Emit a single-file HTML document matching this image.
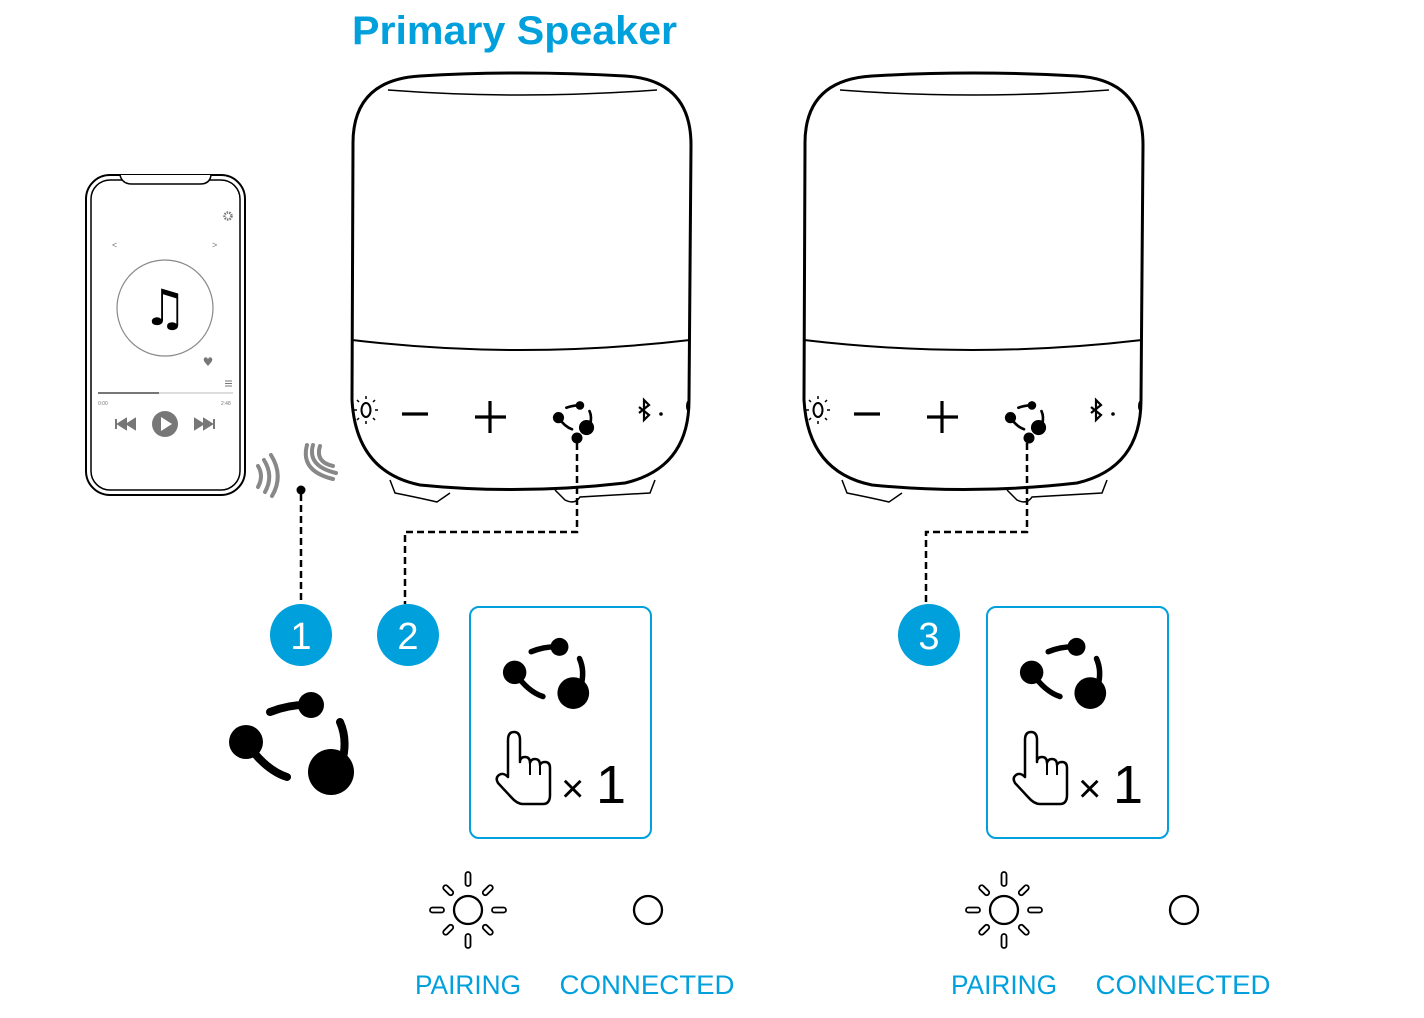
<!DOCTYPE html>
<html><head><meta charset="utf-8"><style>
html,body{margin:0;padding:0;background:#fff;}
svg{display:block;}
</style></head><body>
<svg width="1424" height="1018" viewBox="0 0 1424 1018" xmlns="http://www.w3.org/2000/svg">
<defs>
<g id="grp">
  <circle cx="21" cy="-35" r="13" fill="#000"/>
  <path d="M-20,-28 Q0,-36 21,-35" stroke="#000" stroke-width="8" fill="none" stroke-linecap="round"/>
  <circle cx="-44" cy="2" r="17" fill="#000"/>
  <path d="M-44,2 Q-25,30 -3,37" stroke="#000" stroke-width="8" fill="none" stroke-linecap="round"/>
  <circle cx="41" cy="32" r="23" fill="#000"/>
  <path d="M50,-18 Q58,0 52,22" stroke="#000" stroke-width="8" fill="none" stroke-linecap="round"/>
</g>
<g id="speaker">
  <path d="M353,145 Q352,80 420,76 Q520,70 625,76 Q691,80 691,145 L689,400 Q689,468 625,483 Q520,495 420,485 Q356,472 352,400 Z" fill="#fff" stroke="#000" stroke-width="3"/>
  <path d="M388,90 Q520,100 657,90" stroke="#000" stroke-width="1.5" fill="none"/>
  <path d="M352,340 Q520,360 690,340" stroke="#000" stroke-width="2" fill="none"/>
  <path d="M390,480 L395,493 Q420,498 437,502 L450,493 M555,490 L565,500 Q575,505 580,497 L650,493 L655,480" stroke="#000" stroke-width="1.5" fill="none"/>
  <ellipse cx="366" cy="410" rx="4.5" ry="7" fill="none" stroke="#000" stroke-width="2"/>
  <path d="M366,396v3M366,421v3M357,410h-3M375,410h3M359,402l-2,-2M373,402l2,-2M359,418l-2,2M373,418l2,2" stroke="#000" stroke-width="1.5"/>
  <path d="M402,414h26" stroke="#000" stroke-width="3.2"/>
  <path d="M475,417h31M490,401v32" stroke="#000" stroke-width="3.2"/>
  <use href="#grp" transform="translate(573,417) scale(0.33)"/>
  <circle cx="577" cy="438" r="5.5" fill="#000"/>
  <path d="M639,407l10,8l-5,5v-20l5,5l-10,8" stroke="#000" stroke-width="2.2" fill="none"/>
  <circle cx="661" cy="414" r="1.8" fill="#000"/>
  <path d="M689,400 a3,6 0 0 0 0,12" fill="#000"/>
</g>
<g id="hand">
  <path d="M0,0 Q0,-8 6,-8 Q12,-8 12,0 L12,22 Q12,17 17,17 Q22,17 22,23 Q23,19 27,19 Q32,19 32,25 Q33,22 37,22 Q42,22 42,28 L42,55 Q42,64 35,64 L15,64 Q9,64 3,57 L-10,43 Q-13,38 -9,35 Q-5,32 0,37 Z" fill="#fff" stroke="#000" stroke-width="2.5" stroke-linejoin="round"/>
  <path d="M22,23v12M32,25v10" stroke="#000" stroke-width="2"/>
</g>
<g id="sun">
  <circle cx="0" cy="0" r="14" fill="none" stroke="#000" stroke-width="2.3"/>
  <g fill="none" stroke="#000" stroke-width="1.8">
    <rect x="-2.5" y="-38" width="5" height="14" rx="2.5"/>
    <rect x="-2.5" y="24" width="5" height="14" rx="2.5"/>
    <rect x="-38" y="-2.5" width="14" height="5" rx="2.5"/>
    <rect x="24" y="-2.5" width="14" height="5" rx="2.5"/>
    <rect x="-2.5" y="-34" width="5" height="12" rx="2.5" transform="rotate(45)"/>
    <rect x="-2.5" y="-34" width="5" height="12" rx="2.5" transform="rotate(-45)"/>
    <rect x="-2.5" y="22" width="5" height="12" rx="2.5" transform="rotate(45)"/>
    <rect x="-2.5" y="22" width="5" height="12" rx="2.5" transform="rotate(-45)"/>
  </g>
</g>
</defs>

<text x="352" y="44" font-family="Liberation Sans, sans-serif" font-weight="bold" font-size="40" fill="#00a0dc" textLength="325" lengthAdjust="spacingAndGlyphs">Primary Speaker</text>

<rect x="86" y="175" width="159" height="320" rx="24" fill="#fff" stroke="#000" stroke-width="2"/>
<rect x="91" y="180" width="149" height="310" rx="19" fill="none" stroke="#000" stroke-width="1.5"/>
<path d="M120,175 Q122,184 132,184 L200,184 Q210,184 211,175" fill="#fff" stroke="#000" stroke-width="1.5"/>
<circle cx="228" cy="216" r="3.5" fill="none" stroke="#777" stroke-width="2.5" stroke-dasharray="1.5,1"/>
<text x="112" y="248" font-family="Liberation Sans, sans-serif" font-size="9" fill="#777">&lt;</text>
<text x="212" y="248" font-family="Liberation Sans, sans-serif" font-size="9" fill="#777">&gt;</text>
<circle cx="165" cy="308" r="48" fill="none" stroke="#888" stroke-width="1.2"/>
<text x="165" y="325" text-anchor="middle" font-family="DejaVu Sans, sans-serif" font-size="50" fill="#000">♫</text>
<text x="208" y="366" text-anchor="middle" font-family="DejaVu Sans, sans-serif" font-size="12" fill="#777">♥</text>
<path d="M225,381h7M225,383.5h7M225,386h7" stroke="#777" stroke-width="1"/>
<line x1="98" y1="393" x2="233" y2="393" stroke="#ddd" stroke-width="2"/>
<line x1="98" y1="393" x2="159" y2="393" stroke="#777" stroke-width="2"/>
<text x="98" y="405" font-family="Liberation Sans, sans-serif" font-size="5" fill="#777">0:00</text>
<text x="221" y="405" font-family="Liberation Sans, sans-serif" font-size="5" fill="#777">2:48</text>
<circle cx="165" cy="424" r="13" fill="#777"/>
<path d="M161,417 L172,424 L161,431 Z" fill="#fff"/>
<path d="M116,419v10M126,419l-8,5l8,5zM135,419l-8,5l8,5z" fill="#777" stroke="#777" stroke-width="2"/>
<path d="M214,419v10M204,419l8,5l-8,5zM195,419l8,5l-8,5z" fill="#777" stroke="#777" stroke-width="2"/>
<g stroke="#888" stroke-width="4" fill="none" stroke-linecap="round">
<path d="M258,466 Q264,476 258,487"/><path d="M264,460 Q274,476 265,492"/><path d="M271,455 Q284,476 272,496"/>
<path d="M320,446 Q315,462 333,466"/><path d="M313,445 Q307,466 336,473"/><path d="M307,445 Q300,471 333,479"/>
</g>
<circle cx="301" cy="490" r="4.5" fill="#000"/>

<use href="#speaker"/>
<use href="#speaker" transform="translate(452,0)"/>

<g stroke="#000" stroke-width="2.5" fill="none" stroke-dasharray="7,4">
<path d="M301,494 V603"/>
<path d="M577,443 V532 H405 V604"/>
<path d="M1027,443 V532 H926 V604"/>
</g>

<g font-family="Liberation Sans, sans-serif" font-size="38" fill="#fff" text-anchor="middle">
<circle cx="301" cy="635" r="31" fill="#00a0dc"/><text x="301" y="649">1</text>
<circle cx="408" cy="635" r="31" fill="#00a0dc"/><text x="408" y="649">2</text>
<circle cx="929" cy="635" r="31" fill="#00a0dc"/><text x="929" y="649">3</text>
</g>

<use href="#grp" transform="translate(290,740)"/>

<rect x="470" y="607" width="181" height="231" rx="9" fill="none" stroke="#00a0dc" stroke-width="2"/>
<use href="#grp" transform="translate(545,671) scale(0.69)"/>
<use href="#hand" transform="translate(508,740)"/>
<text x="561" y="802" font-family="Liberation Sans, sans-serif" font-size="40" fill="#000">×</text>
<text x="596" y="803" font-family="Liberation Sans, sans-serif" font-size="54" fill="#000">1</text>

<rect x="987" y="607" width="181" height="231" rx="9" fill="none" stroke="#00a0dc" stroke-width="2"/>
<use href="#grp" transform="translate(1062,671) scale(0.69)"/>
<use href="#hand" transform="translate(1025,740)"/>
<text x="1078" y="802" font-family="Liberation Sans, sans-serif" font-size="40" fill="#000">×</text>
<text x="1113" y="803" font-family="Liberation Sans, sans-serif" font-size="54" fill="#000">1</text>

<use href="#sun" transform="translate(468,910)"/>
<circle cx="648" cy="910" r="14" fill="none" stroke="#000" stroke-width="2.3"/>
<use href="#sun" transform="translate(1004,910)"/>
<circle cx="1184" cy="910" r="14" fill="none" stroke="#000" stroke-width="2.3"/>
<g font-family="Liberation Sans, sans-serif" font-size="27" fill="#00a0dc" text-anchor="middle">
<text x="468" y="994" textLength="106" lengthAdjust="spacingAndGlyphs">PAIRING</text>
<text x="647" y="994" textLength="175" lengthAdjust="spacingAndGlyphs">CONNECTED</text>
<text x="1004" y="994" textLength="106" lengthAdjust="spacingAndGlyphs">PAIRING</text>
<text x="1183" y="994" textLength="175" lengthAdjust="spacingAndGlyphs">CONNECTED</text>
</g>
</svg>
</body></html>
